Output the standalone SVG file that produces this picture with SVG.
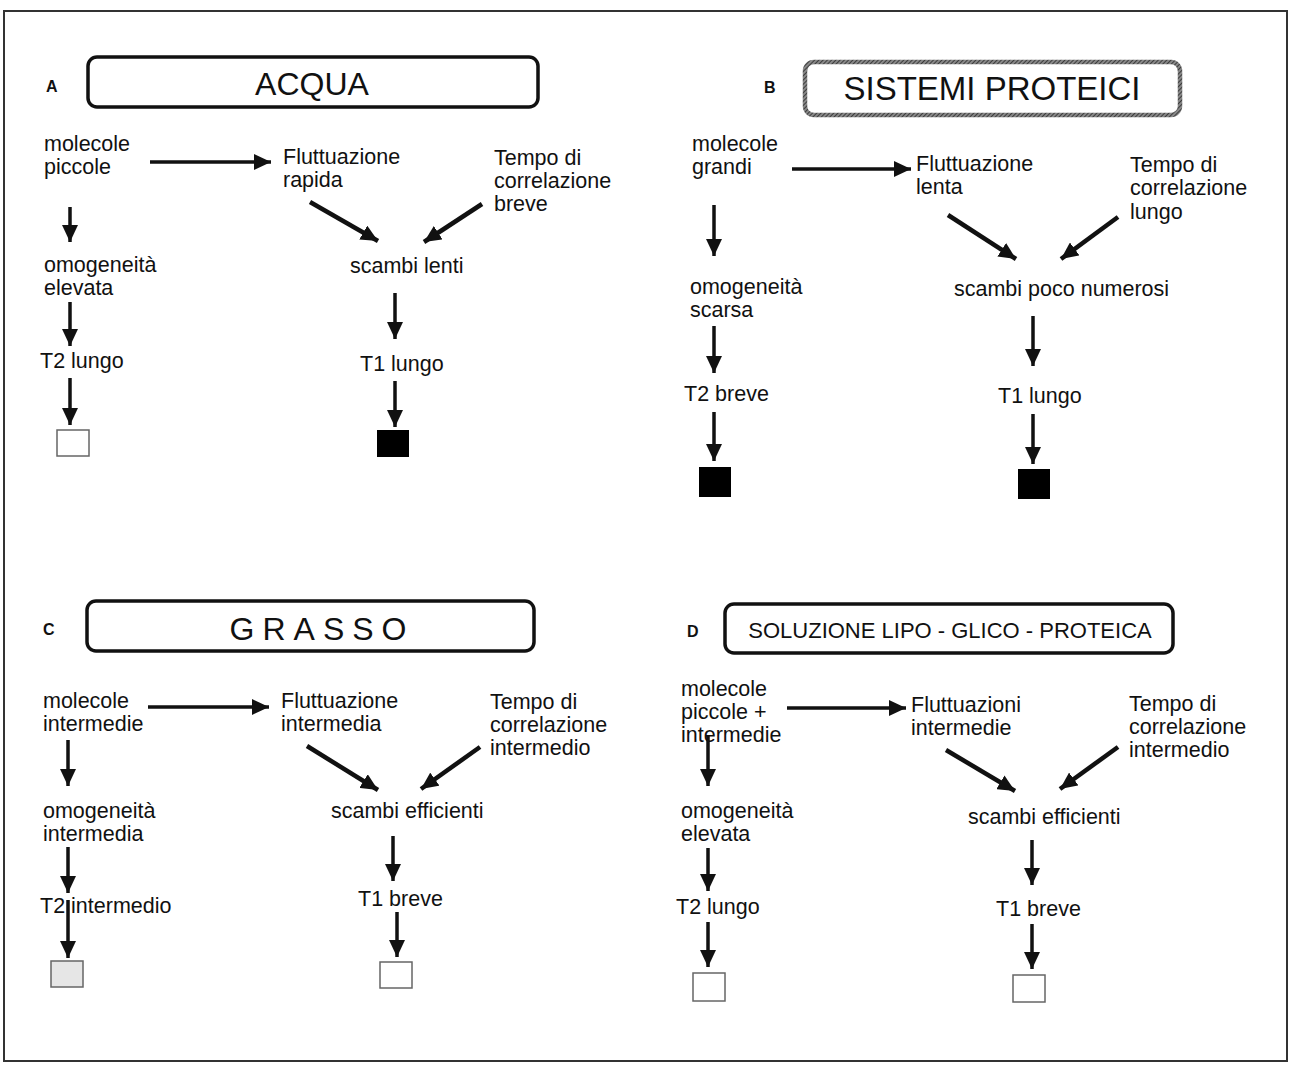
<svg xmlns="http://www.w3.org/2000/svg" width="1294" height="1065" viewBox="0 0 1294 1065">
<defs>
<style>
text{font-family:"Liberation Sans",Arial,sans-serif;fill:#111}
.t{font-size:21.5px}
.h{font-size:32px}
.lab{font-size:16px;font-weight:bold}
.box{fill:#fff;stroke:#111;stroke-width:3.5}
.c line{stroke:#111;stroke-width:3.5;marker-end:url(#ah)}
.c line.d{stroke-width:4.5}
.blk{fill:#000}
.wht{fill:#fff;stroke:#666;stroke-width:1.5}
.gry{fill:#e6e6e6;stroke:#666;stroke-width:1.5}
</style>
<marker id="ah" markerUnits="userSpaceOnUse" markerWidth="18" markerHeight="16" refX="17" refY="8" orient="auto">
<path d="M0,0 L17,8 L0,16 z" fill="#111"/>
</marker>
<pattern id="hatch" patternUnits="userSpaceOnUse" width="3" height="3" patternTransform="rotate(45)">
<rect width="3" height="3" fill="#888"/>
<line x1="0" y1="0" x2="0" y2="3" stroke="#222" stroke-width="1.5"/>
</pattern>
</defs>
<rect x="0" y="0" width="1294" height="1065" fill="#fff"/>
<rect x="4" y="11" width="1283" height="1050" fill="none" stroke="#333" stroke-width="2"/>

<g id="panelA">
<text class="lab" x="46" y="92">A</text>
<g id="A-title"><rect class="box" x="88" y="57" width="450" height="50" rx="9"/><text class="h" x="312" y="95" text-anchor="middle">ACQUA</text></g>
<g id="A-mol"><text class="t" x="44" y="151">molecole</text><text class="t" x="44" y="174">piccole</text></g>
<g id="A-flu"><text class="t" x="283" y="164">Fluttuazione</text><text class="t" x="283" y="187">rapida</text></g>
<g id="A-tempo"><text class="t" x="494" y="165">Tempo di</text><text class="t" x="494" y="188">correlazione</text><text class="t" x="494" y="211">breve</text></g>
<g id="A-scambi"><text class="t" x="350" y="273">scambi lenti</text></g>
<g id="A-t1"><text class="t" x="360" y="371">T1 lungo</text></g>
<g id="A-sq1"><rect class="blk" x="377" y="430" width="32" height="27"/></g>
<g id="A-omo"><text class="t" x="44" y="272">omogeneità</text><text class="t" x="44" y="295">elevata</text></g>
<g id="A-t2"><text class="t" x="40" y="368">T2 lungo</text></g>
<g id="A-sq2"><rect class="wht" x="57" y="430" width="32" height="26"/></g>
</g>

<g id="panelB">
<text class="lab" x="764" y="93">B</text>
<g id="B-title"><rect x="805" y="62" width="375" height="53" rx="9" fill="#fff" stroke="url(#hatch)" stroke-width="4.5"/><text x="992" y="100" text-anchor="middle" style="font-size:33px">SISTEMI PROTEICI</text></g>
<g id="B-mol"><text class="t" x="692" y="151">molecole</text><text class="t" x="692" y="174">grandi</text></g>
<g id="B-flu"><text class="t" x="916" y="171">Fluttuazione</text><text class="t" x="916" y="194">lenta</text></g>
<g id="B-tempo"><text class="t" x="1130" y="172">Tempo di</text><text class="t" x="1130" y="195">correlazione</text><text class="t" x="1130" y="219">lungo</text></g>
<g id="B-scambi"><text class="t" x="954" y="296">scambi poco numerosi</text></g>
<g id="B-t1"><text class="t" x="998" y="403">T1 lungo</text></g>
<g id="B-sq1"><rect class="blk" x="1018" y="469" width="32" height="30"/></g>
<g id="B-omo"><text class="t" x="690" y="294">omogeneità</text><text class="t" x="690" y="317">scarsa</text></g>
<g id="B-t2"><text class="t" x="684" y="401">T2 breve</text></g>
<g id="B-sq2"><rect class="blk" x="699" y="467" width="32" height="30"/></g>
</g>

<g id="panelC">
<text class="lab" x="43" y="635">C</text>
<g id="C-title"><rect class="box" x="87" y="601" width="447" height="50" rx="9"/><text class="h" x="322" y="640" text-anchor="middle" letter-spacing="8">GRASSO</text></g>
<g id="C-mol"><text class="t" x="43" y="708">molecole</text><text class="t" x="43" y="731">intermedie</text></g>
<g id="C-flu"><text class="t" x="281" y="708">Fluttuazione</text><text class="t" x="281" y="731">intermedia</text></g>
<g id="C-tempo"><text class="t" x="490" y="709">Tempo di</text><text class="t" x="490" y="732">correlazione</text><text class="t" x="490" y="755">intermedio</text></g>
<g id="C-scambi"><text class="t" x="331" y="818">scambi efficienti</text></g>
<g id="C-t1"><text class="t" x="358" y="906">T1 breve</text></g>
<g id="C-sq1"><rect class="wht" x="380" y="962" width="32" height="26"/></g>
<g id="C-omo"><text class="t" x="43" y="818">omogeneità</text><text class="t" x="43" y="841">intermedia</text></g>
<g id="C-t2"><text class="t" x="40" y="913">T2 intermedio</text></g>
<g id="C-sq2"><rect class="gry" x="51" y="961" width="32" height="26"/></g>
</g>

<g id="panelD">
<text class="lab" x="687" y="637">D</text>
<g id="D-title"><rect class="box" x="725" y="604" width="448" height="49" rx="9"/><text x="950" y="638" text-anchor="middle" style="font-size:22px">SOLUZIONE LIPO - GLICO - PROTEICA</text></g>
<g id="D-mol"><text class="t" x="681" y="696">molecole</text><text class="t" x="681" y="719">piccole +</text><text class="t" x="681" y="742">intermedie</text></g>
<g id="D-flu"><text class="t" x="911" y="712">Fluttuazioni</text><text class="t" x="911" y="735">intermedie</text></g>
<g id="D-tempo"><text class="t" x="1129" y="711">Tempo di</text><text class="t" x="1129" y="734">correlazione</text><text class="t" x="1129" y="757">intermedio</text></g>
<g id="D-scambi"><text class="t" x="968" y="824">scambi efficienti</text></g>
<g id="D-t1"><text class="t" x="996" y="916">T1 breve</text></g>
<g id="D-sq1"><rect class="wht" x="1013" y="975" width="32" height="27"/></g>
<g id="D-omo"><text class="t" x="681" y="818">omogeneità</text><text class="t" x="681" y="841">elevata</text></g>
<g id="D-t2"><text class="t" x="676" y="914">T2 lungo</text></g>
<g id="D-sq2"><rect class="wht" x="693" y="973" width="32" height="28"/></g>
</g>

<g id="connectors" class="c">
<line x1="150" y1="162" x2="271" y2="162"/>
<line class="d" x1="310" y1="202" x2="378" y2="241"/>
<line class="d" x1="482" y1="204" x2="424" y2="242"/>
<line x1="395" y1="293" x2="395" y2="339"/>
<line x1="395" y1="381" x2="395" y2="427"/>
<line x1="70" y1="207" x2="70" y2="242"/>
<line x1="70" y1="302" x2="70" y2="346"/>
<line x1="70" y1="378" x2="70" y2="425"/>

<line x1="792" y1="169" x2="911" y2="169"/>
<line class="d" x1="948" y1="215" x2="1016" y2="259"/>
<line class="d" x1="1118" y1="217" x2="1061" y2="259"/>
<line x1="1033" y1="316" x2="1033" y2="366"/>
<line x1="1033" y1="414" x2="1033" y2="464"/>
<line x1="714" y1="205" x2="714" y2="256"/>
<line x1="714" y1="326" x2="714" y2="373"/>
<line x1="714" y1="412" x2="714" y2="461"/>

<line x1="148" y1="707" x2="269" y2="707"/>
<line class="d" x1="307" y1="746" x2="378" y2="790"/>
<line class="d" x1="480" y1="747" x2="421" y2="789"/>
<line x1="393" y1="836" x2="393" y2="881"/>
<line x1="397" y1="912" x2="397" y2="957"/>
<line x1="68" y1="740" x2="68" y2="786"/>
<line x1="68" y1="847" x2="68" y2="893"/>
<line x1="68" y1="900" x2="68" y2="958"/>

<line x1="787" y1="708" x2="906" y2="708"/>
<line class="d" x1="946" y1="750" x2="1015" y2="791"/>
<line class="d" x1="1118" y1="747" x2="1060" y2="789"/>
<line x1="1032" y1="840" x2="1032" y2="885"/>
<line x1="1032" y1="924" x2="1032" y2="969"/>
<line x1="708" y1="735" x2="708" y2="786"/>
<line x1="708" y1="848" x2="708" y2="891"/>
<line x1="708" y1="922" x2="708" y2="967"/>
</g>
</svg>
